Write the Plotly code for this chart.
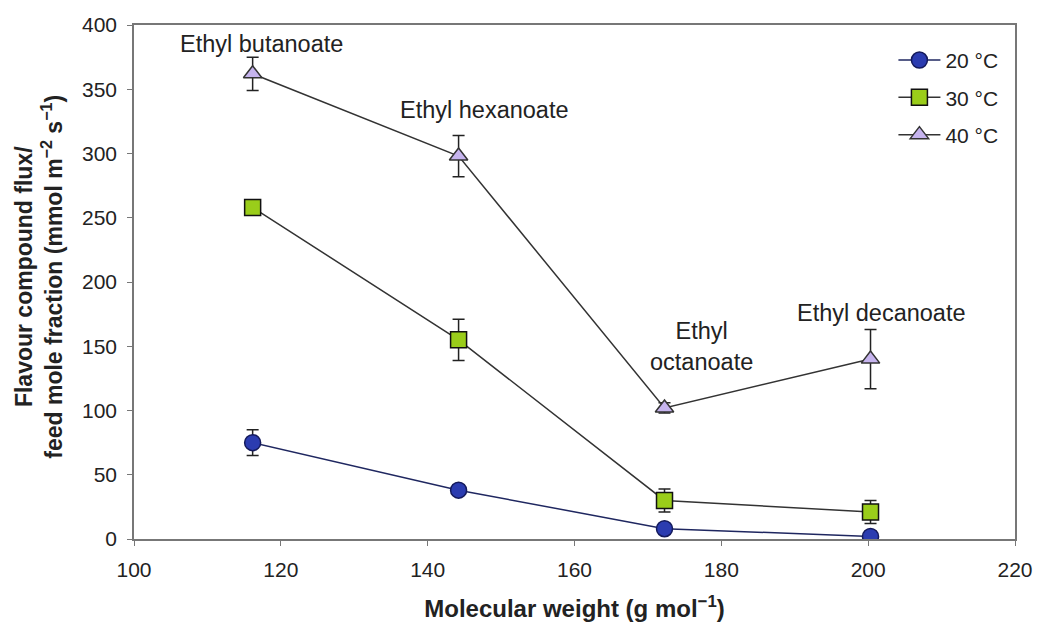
import plotly.graph_objects as go

mw = [116.16, 144.21, 172.26, 200.32]
flux_20 = [75, 38, 8, 2]
err_20 = [10, 4, 3, 2]
flux_30 = [258, 155, 30, 21]
err_30 = [4, 16, 9, 9]
flux_40 = [362, 298, 102, 140]
err_40 = [13, 16, 4, 23]
compounds = ["Ethyl butanoate", "Ethyl hexanoate", "Ethyl<br>octanoate", "Ethyl decanoate"]
label_x = [117.3, 147.8, 177.3, 201.8]
label_y = [385, 334, 150, 176]

FONT = "Liberation Sans, Arial, sans-serif"

fig = go.Figure()

def add(y, e, name, symbol, fill, edge, linecol):
    fig.add_trace(go.Scatter(
        x=mw, y=y, name=name, mode="lines+markers", legendgroup=name,
        line=dict(color=linecol, width=1.5),
        marker=dict(symbol=symbol, size=16, color=fill, line=dict(color=edge, width=1.5)),
        error_y=dict(type="data", array=e, visible=True, color="#222", thickness=1.5, width=6),
    ))

add(flux_20, err_20, "20 °C", "circle", "#2b3cb0", "#141a5c", "#1f2760")
add(flux_30, err_30, "30 °C", "square", "#9acd1a", "#111", "#333")
add(flux_40, err_40, "40 °C", "triangle-up", "#c6b4ee", "#333", "#333")

for t, x, y in zip(compounds, label_x, label_y):
    fig.add_annotation(x=x, y=y, text=t, showarrow=False,
                       font=dict(family=FONT, size=23.5, color="#222"))

# y-axis title placed as rotated annotation for exact position
fig.add_annotation(
    xref="paper", yref="paper", x=-0.108, y=0.51, xanchor="center", yanchor="middle",
    text="<b>Flavour compound flux/<br>feed mole fraction (mmol m<sup>−2</sup> s<sup>−1</sup>)</b>",
    textangle=-90, showarrow=False, font=dict(family=FONT, size=23, color="#222"))

fig.update_layout(
    width=1045, height=630,
    margin=dict(l=134, r=23, t=25, b=90),
    paper_bgcolor="white", plot_bgcolor="white",
    font=dict(family=FONT, size=21, color="#222"),
    showlegend=True,
    legend=dict(x=0.862, y=0.971, xanchor="left", yanchor="top", itemwidth=42,
                font=dict(size=21), bgcolor="rgba(0,0,0,0)", tracegroupgap=7),
    xaxis=dict(range=[100, 220], dtick=20, tick0=100, showgrid=False, zeroline=False,
               showline=True, linecolor="#777", linewidth=1.5, mirror=True,
               ticks="outside", ticklen=5, tickcolor="#777", ticklabelstandoff=6,
               title=dict(text="<b>Molecular weight (g mol<sup>−1</sup>)</b>", font=dict(size=24), standoff=20)),
    yaxis=dict(range=[0, 400], dtick=50, showgrid=False, zeroline=False,
               showline=True, linecolor="#777", linewidth=1.5, mirror=True,
               ticks="outside", ticklen=5, tickcolor="#777", ticklabelstandoff=6),
)

fig.write_html("out.html")
